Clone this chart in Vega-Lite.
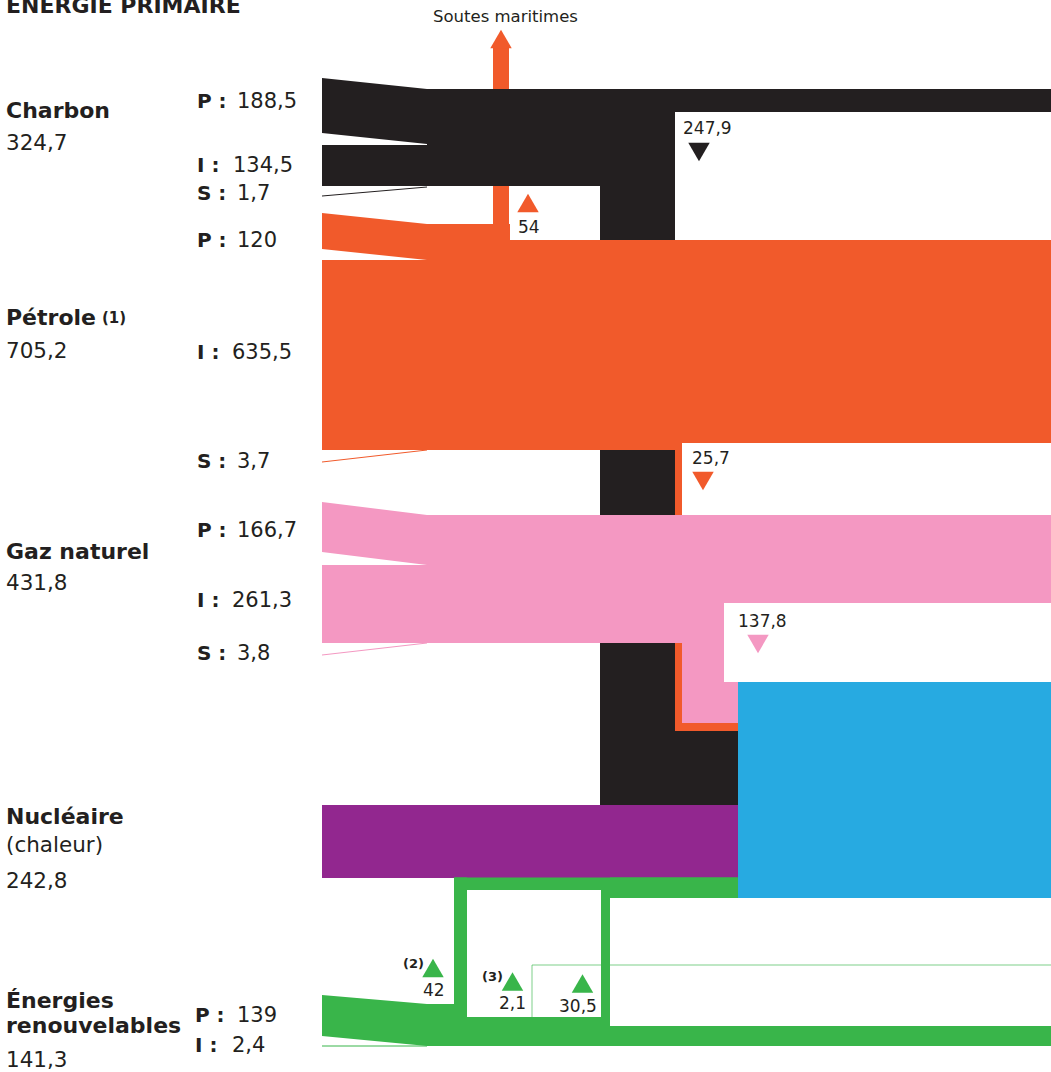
{
  "$schema": "https://vega.github.io/schema/vega-lite/v6.json",
  "width": 1051,
  "height": 1072,
  "padding": 0,
  "autosize": {"type": "none"},
  "background": "white",
  "config": {
    "view": {"stroke": null},
    "text": {"font": "DejaVu Sans", "color": "#231F20", "baseline": "alphabetic", "align": "left"}
  },
  "datasets": {
    "bands": [
      {"id": "charbonP", "src": "charbon", "x": 322, "y": 78, "y2": 133},
      {"id": "charbonP", "src": "charbon", "x": 427, "y": 89, "y2": 144},
      {"id": "petroleP", "src": "petrole", "x": 322, "y": 213, "y2": 249},
      {"id": "petroleP", "src": "petrole", "x": 427, "y": 224, "y2": 260},
      {"id": "gazP", "src": "gaz", "x": 322, "y": 502, "y2": 552},
      {"id": "gazP", "src": "gaz", "x": 427, "y": 515, "y2": 565},
      {"id": "enrP", "src": "enr", "x": 322, "y": 995, "y2": 1036},
      {"id": "enrP", "src": "enr", "x": 427, "y": 1004, "y2": 1046}
    ],
    "flows": [
      {"src": "petrole", "x": 493, "x2": 509, "y": 47, "y2": 226},
      {"src": "charbon", "x": 322, "x2": 427, "y": 145, "y2": 186},
      {"src": "charbon", "x": 427, "x2": 600, "y": 89, "y2": 186},
      {"src": "charbon", "x": 600, "x2": 1051, "y": 89, "y2": 112},
      {"src": "charbon", "x": 600, "x2": 675, "y": 89, "y2": 805},
      {"src": "charbon", "x": 600, "x2": 738, "y": 731, "y2": 805},
      {"src": "petrole", "x": 322, "x2": 427, "y": 260, "y2": 450},
      {"src": "petrole", "x": 427, "x2": 510, "y": 224, "y2": 241},
      {"src": "petrole", "x": 427, "x2": 682, "y": 240, "y2": 450},
      {"src": "petrole", "x": 682, "x2": 1051, "y": 240, "y2": 443},
      {"src": "petrole", "x": 675, "x2": 682, "y": 443, "y2": 731},
      {"src": "petrole", "x": 675, "x2": 738, "y": 723, "y2": 731},
      {"src": "gaz", "x": 322, "x2": 427, "y": 565, "y2": 643},
      {"src": "gaz", "x": 427, "x2": 724, "y": 515, "y2": 643},
      {"src": "gaz", "x": 724, "x2": 1051, "y": 515, "y2": 603},
      {"src": "gaz", "x": 682, "x2": 724, "y": 603, "y2": 723},
      {"src": "gaz", "x": 724, "x2": 738, "y": 682, "y2": 723},
      {"src": "elec", "x": 738, "x2": 1051, "y": 682, "y2": 898},
      {"src": "nucleaire", "x": 322, "x2": 738, "y": 805, "y2": 878},
      {"src": "enr", "x": 454, "x2": 738, "y": 877.5, "y2": 890},
      {"src": "enr", "x": 610, "x2": 738, "y": 877.5, "y2": 898},
      {"src": "enr", "x": 454, "x2": 467, "y": 877.5, "y2": 1046},
      {"src": "enr", "x": 601, "x2": 610, "y": 890, "y2": 1026},
      {"src": "enr", "x": 427, "x2": 610, "y": 1017, "y2": 1046},
      {"src": "enr", "x": 427, "x2": 454, "y": 1004, "y2": 1046},
      {"src": "enr", "x": 610, "x2": 1051, "y": 1026, "y2": 1046}
    ],
    "thin": [
      {"src": "charbon", "x": 322, "y": 196, "x2": 427, "y2": 187},
      {"src": "petrole", "x": 322, "y": 462, "x2": 427, "y2": 450},
      {"src": "gaz", "x": 322, "y": 655, "x2": 427, "y2": 643},
      {"src": "enr", "x": 322, "y": 1046, "x2": 427, "y2": 1046}
    ],
    "frame": [
      {"src": "enr", "x": 532, "y": 965, "x2": 1051, "y2": 965},
      {"src": "enr", "x": 532, "y": 965, "x2": 532, "y2": 1017}
    ],
    "marks": [
      {"src": "petrole", "dir": "up", "x": 501, "y": 39},
      {"src": "charbon", "dir": "down", "x": 699, "y": 152},
      {"src": "petrole", "dir": "up", "x": 528, "y": 203},
      {"src": "petrole", "dir": "down", "x": 703, "y": 481},
      {"src": "gaz", "dir": "down", "x": 758, "y": 644},
      {"src": "enr", "dir": "up", "x": 433, "y": 968},
      {"src": "enr", "dir": "up", "x": 512.5, "y": 981.5},
      {"src": "enr", "dir": "up", "x": 582.5, "y": 983.5}
    ],
    "title": [
      {"t": "ÉNERGIE PRIMAIRE", "x": 6, "y": 12.7}
    ],
    "sources": [
      {"t": "Charbon", "x": 6, "y": 118},
      {"t": "Pétrole", "x": 6, "y": 325},
      {"t": "Gaz naturel", "x": 6, "y": 559},
      {"t": "Nucléaire", "x": 6, "y": 824},
      {"t": "Énergies", "x": 6, "y": 1008},
      {"t": "renouvelables", "x": 6, "y": 1033}
    ],
    "totals": [
      {"t": "324,7", "x": 6, "y": 150},
      {"t": "705,2", "x": 6, "y": 358},
      {"t": "431,8", "x": 6, "y": 590},
      {"t": "(chaleur)", "x": 6, "y": 852},
      {"t": "242,8", "x": 6, "y": 888},
      {"t": "141,3", "x": 6, "y": 1067}
    ],
    "keys": [
      {"t": "P :", "x": 197, "y": 108},
      {"t": "I :", "x": 197, "y": 172},
      {"t": "S :", "x": 197, "y": 200},
      {"t": "P :", "x": 197, "y": 247},
      {"t": "I :", "x": 197, "y": 359},
      {"t": "S :", "x": 197, "y": 468},
      {"t": "P :", "x": 197, "y": 537},
      {"t": "I :", "x": 197, "y": 607},
      {"t": "S :", "x": 197, "y": 660},
      {"t": "P :", "x": 195, "y": 1022},
      {"t": "I :", "x": 195, "y": 1052}
    ],
    "values": [
      {"t": "188,5", "x": 237, "y": 108},
      {"t": "134,5", "x": 233, "y": 172},
      {"t": "1,7", "x": 237, "y": 200},
      {"t": "120", "x": 237, "y": 247},
      {"t": "635,5", "x": 232, "y": 359},
      {"t": "3,7", "x": 237, "y": 468},
      {"t": "166,7", "x": 237, "y": 537},
      {"t": "261,3", "x": 232, "y": 607},
      {"t": "3,8", "x": 237, "y": 660},
      {"t": "139", "x": 237, "y": 1022},
      {"t": "2,4", "x": 232, "y": 1052}
    ],
    "deltas": [
      {"t": "247,9", "x": 683, "y": 134},
      {"t": "54", "x": 518, "y": 233},
      {"t": "25,7", "x": 692, "y": 464},
      {"t": "137,8", "x": 738, "y": 627},
      {"t": "42", "x": 423, "y": 996},
      {"t": "2,1", "x": 499, "y": 1009},
      {"t": "30,5", "x": 559, "y": 1012}
    ],
    "notes": [
      {"t": "(2)", "x": 403, "y": 968},
      {"t": "(3)", "x": 482, "y": 981}
    ],
    "noteBig": [
      {"t": "(1)", "x": 102, "y": 323}
    ],
    "bunkers": [
      {"t": "Soutes maritimes", "x": 433, "y": 22}
    ]
  },
  "encoding": {
    "x": {"field": "x", "type": "quantitative", "scale": {"domain": [0, 1051], "nice": false, "zero": false}, "axis": null},
    "y": {"field": "y", "type": "quantitative", "stack": null, "scale": {"domain": [0, 1072], "reverse": true, "nice": false, "zero": false}, "axis": null}
  },
  "layer": [
    {
      "data": {"name": "thin"},
      "mark": {"type": "rule", "strokeWidth": 1},
      "encoding": {
        "x2": {"field": "x2"},
        "y2": {"field": "y2"},
        "color": {"field": "src", "type": "nominal", "legend": null, "scale": {"domain": ["charbon", "petrole", "gaz", "nucleaire", "elec", "enr"], "range": ["#231F20", "#F15A2B", "#F498C2", "#92278F", "#27AAE1", "#39B54A"]}}
      }
    },
    {
      "data": {"name": "frame"},
      "mark": {"type": "rule", "strokeWidth": 1, "opacity": 0.65},
      "encoding": {
        "x2": {"field": "x2"},
        "y2": {"field": "y2"},
        "color": {"field": "src", "type": "nominal", "legend": null, "scale": {"domain": ["charbon", "petrole", "gaz", "nucleaire", "elec", "enr"], "range": ["#231F20", "#F15A2B", "#F498C2", "#92278F", "#27AAE1", "#39B54A"]}}
      }
    },
    {
      "data": {"name": "bands"},
      "mark": {"type": "area", "orient": "vertical", "interpolate": "linear"},
      "encoding": {
        "y2": {"field": "y2"},
        "detail": {"field": "id"},
        "color": {"field": "src", "type": "nominal", "legend": null, "scale": {"domain": ["charbon", "petrole", "gaz", "nucleaire", "elec", "enr"], "range": ["#231F20", "#F15A2B", "#F498C2", "#92278F", "#27AAE1", "#39B54A"]}}
      }
    },
    {
      "data": {"name": "flows"},
      "mark": {"type": "rect"},
      "encoding": {
        "x2": {"field": "x2"},
        "y2": {"field": "y2"},
        "color": {"field": "src", "type": "nominal", "legend": null, "scale": {"domain": ["charbon", "petrole", "gaz", "nucleaire", "elec", "enr"], "range": ["#231F20", "#F15A2B", "#F498C2", "#92278F", "#27AAE1", "#39B54A"]}}
      }
    },
    {
      "data": {"name": "marks"},
      "mark": {"type": "point", "filled": true, "opacity": 1, "size": 460},
      "encoding": {
        "shape": {"field": "dir", "type": "nominal", "legend": null, "scale": {"domain": ["up", "down"], "range": ["triangle-up", "triangle-down"]}},
        "color": {"field": "src", "type": "nominal", "legend": null, "scale": {"domain": ["charbon", "petrole", "gaz", "nucleaire", "elec", "enr"], "range": ["#231F20", "#F15A2B", "#F498C2", "#92278F", "#27AAE1", "#39B54A"]}}
      }
    },
    {
      "data": {"name": "title"},
      "mark": {"type": "text", "fontSize": 22, "fontWeight": "bold"},
      "encoding": {"text": {"field": "t"}}
    },
    {
      "data": {"name": "sources"},
      "mark": {"type": "text", "fontSize": 22, "fontWeight": "bold"},
      "encoding": {"text": {"field": "t"}}
    },
    {
      "data": {"name": "totals"},
      "mark": {"type": "text", "fontSize": 21.5},
      "encoding": {"text": {"field": "t"}}
    },
    {
      "data": {"name": "keys"},
      "mark": {"type": "text", "fontSize": 20, "fontWeight": "bold"},
      "encoding": {"text": {"field": "t"}}
    },
    {
      "data": {"name": "values"},
      "mark": {"type": "text", "fontSize": 21},
      "encoding": {"text": {"field": "t"}}
    },
    {
      "data": {"name": "deltas"},
      "mark": {"type": "text", "fontSize": 17},
      "encoding": {"text": {"field": "t"}}
    },
    {
      "data": {"name": "notes"},
      "mark": {"type": "text", "fontSize": 13, "fontWeight": "bold"},
      "encoding": {"text": {"field": "t"}}
    },
    {
      "data": {"name": "noteBig"},
      "mark": {"type": "text", "fontSize": 15, "fontWeight": "bold"},
      "encoding": {"text": {"field": "t"}}
    },
    {
      "data": {"name": "bunkers"},
      "mark": {"type": "text", "fontSize": 16.5},
      "encoding": {"text": {"field": "t"}}
    }
  ]
}
